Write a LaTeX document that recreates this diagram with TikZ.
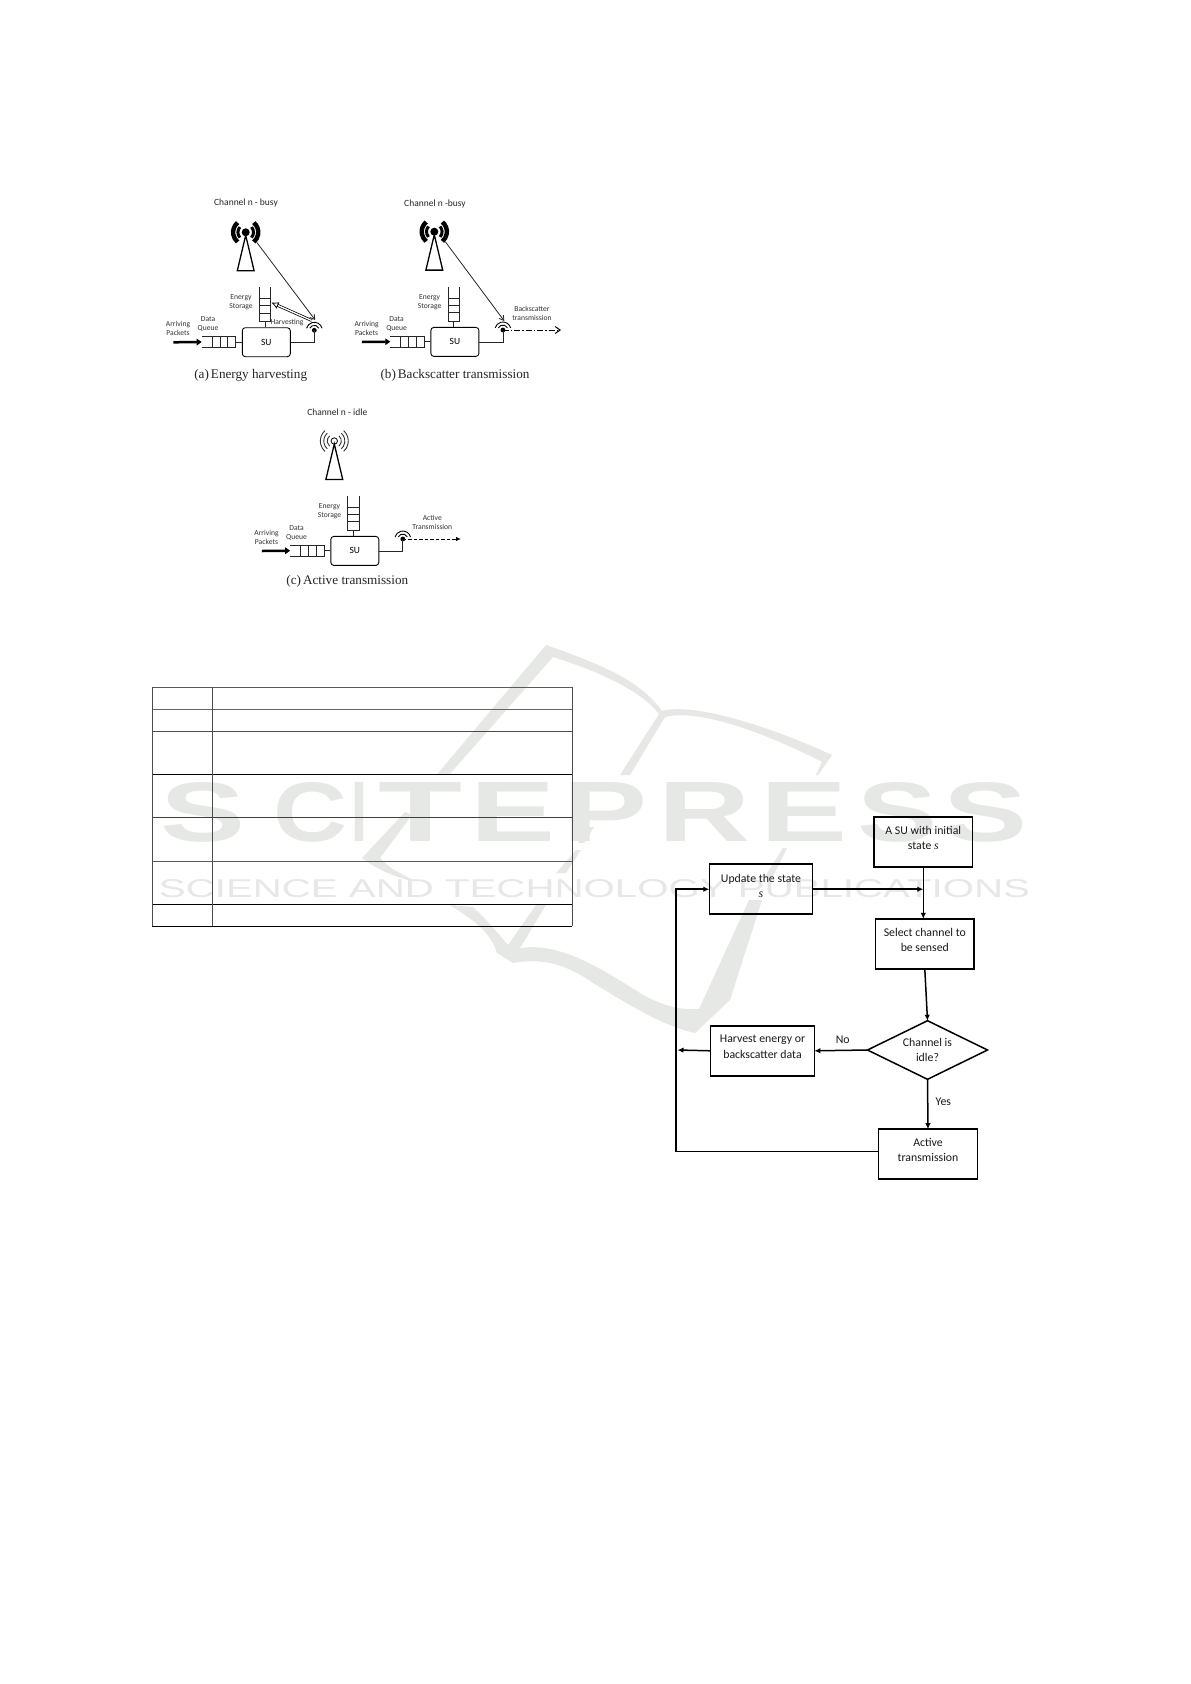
\documentclass[tikz,border=0pt]{standalone}
\usepackage{fontspec}
\usepackage{graphicx}
\usetikzlibrary{arrows.meta,shapes.geometric,calc}
\setmainfont{Carlito}
\newfontfamily\capfont{Liberation Serif}
\newfontfamily\wmfont{Liberation Sans}
\definecolor{wm}{HTML}{E6E8E6}
\newcommand{\wl}[2]{\resizebox{#1pt}{59pt}{#2}}
\tikzset{
  tiny label/.style={font=\fontsize{7.6}{9}\selectfont,align=center,text=black!80,inner sep=0pt},
  chan label/.style={font=\fontsize{9.5}{11}\selectfont,text=black!85,inner sep=0pt},
  cap label/.style={font=\capfont\fontsize{13.2}{15}\selectfont,text=black!85,inner sep=0pt},
  su box/.style={draw,rounded corners=3pt,line width=.9pt,minimum width=48pt,minimum height=29pt,inner sep=0pt,font=\fontsize{9.5}{11}\selectfont},
  plain box/.style={inner sep=0pt,outer sep=0pt},
  thin line/.style={line width=.7pt,draw=black!85},
  feed/.style={line width=.8pt,draw=black!85,-{Straight Barb[length=4.5pt,width=5.5pt]}},
  flow box/.style={draw,line width=1.5pt,minimum width=98.7pt,minimum height=50pt,inner sep=0pt,outer sep=0pt},
  flow text/.style={font=\fontsize{11.8}{15.4}\selectfont,align=center,text=black!90,inner sep=0pt},
  flow/.style={line width=1.5pt,-{Latex[length=6pt,width=5.5pt]}},
  tline/.style={line width=.9pt},
}
\newcommand{\towerbusy}[2]{%
  \fill (#1,#2) circle (4pt);
  \draw[line width=3pt] ($(#1,#2)+(42:7.8pt)$) arc[start angle=42,end angle=-42,radius=7.8pt];
  \draw[line width=3pt] ($(#1,#2)+(138:7.8pt)$) arc[start angle=138,end angle=222,radius=7.8pt];
  \draw[line width=4.4pt] ($(#1,#2)+(50:12.6pt)$) arc[start angle=50,end angle=-50,radius=12.6pt];
  \draw[line width=4.4pt] ($(#1,#2)+(130:12.6pt)$) arc[start angle=130,end angle=230,radius=12.6pt];
  \draw[line width=1.3pt,line join=miter] (#1,#2+3) -- (#1-8.4,#2+38.4) -- (#1+8.4,#2+38.4) -- cycle;
}
\newcommand{\toweridle}[2]{%
  \draw[line width=.8pt] (#1,#2) circle (3.2pt);
  \foreach \r in {7,10.5,14}{
    \draw[line width=.9pt,draw=black!80] ($(#1,#2)+(48:\r pt)$) arc[start angle=48,end angle=-48,radius=\r pt];
    \draw[line width=.9pt,draw=black!80] ($(#1,#2)+(132:\r pt)$) arc[start angle=132,end angle=228,radius=\r pt];
  }
  \draw[line width=1.3pt,line join=miter] (#1,#2+3) -- (#1-8.4,#2+38.4) -- (#1+8.4,#2+38.4) -- cycle;
}
% su unit: #1 prefix, #2 dx, #3 dy
\newcommand{\suunit}[3]{%
\begin{scope}[shift={(#2,#3)},name prefix=#1-]
  \node[su box] (su) at (266.3,342.2) {SU};
  \node[plain box,minimum width=34pt,minimum height=11.4pt] (q) at (218.7,342) {};
  \draw[thin line] (q.north west) -- (q.north east) -- (q.south east) -- (q.south west);
  \foreach \xx in {212,220,227.7}{\draw[thin line] (\xx,336.3) -- (\xx,347.7);}
  \node[plain box,minimum width=11.4pt,minimum height=34pt] (st) at (265,304.3) {};
  \draw[thin line] (st.north west) -- (st.south west) -- (st.south east) -- (st.north east);
  \foreach \yy in {298.3,305.4,313}{\draw[thin line] (259.3,\yy) -- (270.7,\yy);}
  \draw[thin line] (st.south) -- (st.south |- su.north);
  \draw[thin line] (su.west |- q.east) -- (q.east);
  \coordinate (in) at (173.3,342.3);
  \draw[line width=2.5pt,-{Triangle[length=5pt,width=6.5pt]}] (in) -- (q.west);
  \coordinate (dot) at (314.3,330.3);
  \fill (dot) circle (2.4pt);
  \draw[line width=.9pt] ($(dot)+(25:5pt)$) arc[start angle=25,end angle=155,radius=5pt];
  \draw[line width=.9pt] ($(dot)+(15:8pt)$) arc[start angle=15,end angle=165,radius=8pt];
  \draw[thin line] (su.east) -| (dot);
  \node[tiny label] (es) at (241,302.7) {Energy\\Storage};
  \node[tiny label] (dq) at (208,324) {Data\\Queue};
  \node[tiny label] (ap) at (178,328.8) {Arriving\\Packets};
\end{scope}}
\begin{document}
\begin{tikzpicture}[x=1pt,y=-1pt]
\fill[white] (0,0) rectangle (1191,1684);
\useasboundingbox (0,0) rectangle (1191,1684);
% watermark
\node[inner sep=0pt,text=wm,font=\wmfont\bfseries,anchor=west] (wm1) at (160,812.7) {\wl{85}{S}\hspace{28pt}\wl{74}{C}\hspace{4pt}\wl{16}{I}\hspace{11pt}\wl{84}{T}\hspace{8pt}\wl{85}{E}\hspace{8pt}\wl{84}{P}\hspace{11pt}\wl{92}{R}\hspace{10pt}\wl{87}{E}\hspace{10pt}\wl{80}{S}\hspace{6pt}\wl{84}{S}};
\node[inner sep=0pt,text=wm,font=\wmfont] (wm2) at (594.5,889) {\resizebox{871pt}{18pt}{SCIENCE AND TECHNOLOGY PUBLICATIONS}};
\fill[wm] (546,645) .. controls (600,664) and (640,680) .. (662,711)
  .. controls (690,703) and (760,722) .. (832,755) -- (818,775) -- (816,775) -- (822,762)
  .. controls (770,735) and (700,708) .. (665,717) -- (630,775) -- (620,775) -- (659,714)
  .. controls (640,690) and (600,672) .. (553,657) -- (449,775) -- (436.5,775) -- cycle;
\fill[wm] (405,812) -- (362,858) .. controls (375,868) and (390,875) .. (408,880)
  -- (413,880) -- (398,872) .. controls (390,868) and (385,863) .. (380,858) -- (412,815) -- cycle;
\fill[wm] (586,827) -- (594,827) -- (584,843) -- (578,843) -- cycle;
\fill[wm] (576,850) -- (581,850) -- (566,873) -- (556,873) -- cycle;
\fill[wm] (783,848) -- (787,848) -- (772,878) -- (764,878) -- cycle;
\fill[wm] (450,905) -- (473,907) .. controls (485,918) and (497,932) .. (508,945)
  -- (536,905) -- (546,905) -- (520,948)
  .. controls (560,942) and (600,968) .. (640,993)
  .. controls (665,1008) and (685,1010) .. (699,1009)
  -- (749,900) -- (762,900) -- (730,1000) -- (695,1033)
  .. controls (660,1025) and (630,1005) .. (593,983)
  .. controls (565,963) and (540,958) .. (513,963) -- (497,953)
  .. controls (490,930) and (470,918) .. (450,905) -- cycle;
% table
\foreach \yy/\cc in {687/black!65,709/black!60,731/black!70,774.3/black,817.3/black!75,861/black!65,904.3/black,926/black}{
  \draw[tline,draw=\cc] (152.3,\yy) -- (572.3,\yy);}
\draw[tline,draw=black!70] (152.3,687) -- (152.3,926);
\draw[tline,draw=black!70] (212.3,687) -- (212.3,926);
\draw[tline,draw=black!70] (572.3,687) -- (572.3,926);
% subfigure a
\towerbusy{245.7}{232.3}
\suunit{a}{0}{0}
\node[tiny label] (hv) at (287,322.3) {Harvesting};
\node[chan label] (ca) at (246,202.7) {Channel n - busy};
\coordinate (ta) at (256.7,242.3);
\coordinate (ra) at (315.2,320);
\draw[feed] (ta) -- (ra);
\coordinate (ha) at (311.7,320.5);
\coordinate (hb) at (271.5,302.6);
\draw[line width=.75pt,double=white,double distance=1.3pt,-{Latex[open,length=7pt,width=7pt]}] (ha) -- (hb);
\node[cap label] (capa) at (250.7,375) {(a)\hspace{2pt}Energy harvesting};
% subfigure b
\towerbusy{434.3}{231.7}
\suunit{b}{188.6}{-.3}
\node[chan label] (cb) at (435,204.3) {Channel n -busy};
\coordinate (tb) at (445.3,241.7);
\coordinate (rb) at (504.3,321);
\draw[feed] (tb) -- (rb);
\coordinate (eb) at (561,330);
\draw[line width=1pt,dash pattern=on 6pt off 2pt on 1.5pt off 2pt,-{Straight Barb[length=5pt,width=7pt]}] (b-dot) -- (eb);
\node[tiny label] (bt) at (532,313.3) {Backscatter\\transmission};
\node[cap label] (capb) at (455,375) {(b)\hspace{2pt}Backscatter transmission};
% subfigure c
\toweridle{334.3}{441}
\suunit{c}{88.5}{208.7}
\node[chan label] (cc) at (337.3,412.3) {Channel n - idle};
\coordinate (ec) at (461,539);
\draw[line width=1pt,dash pattern=on 3.5pt off 2pt,-{Latex[length=5pt,width=4.5pt]}] (c-dot) -- (ec);
\node[tiny label] (at) at (432.3,522.8) {Active\\Transmission};
\node[cap label] (capc) at (347.3,581) {(c)\hspace{2pt}Active transmission};
% flowchart
\node[flow box,label={[flow text,yshift=4pt]center:A SU with initial\\state {\capfont\itshape s}}] (init) at (923.3,842.2) {};
\node[flow box,minimum width=103.4pt,label={[flow text,yshift=3.5pt]center:Update the state\\{\capfont\itshape s}}] (upd) at (761,889.2) {};
\node[flow box,label={[flow text,yshift=4pt]center:Select channel to\\be sensed}] (sel) at (924.8,943.8) {};
\node[diamond,draw,line width=1.5pt,shape aspect=2.05,minimum width=120pt,minimum height=58.6pt,inner sep=0pt,outer sep=0pt,label={[flow text]center:Channel is\\idle?}] (dec) at (927.5,1050) {};
\node[flow box,minimum width=103.6pt,label={[flow text,yshift=4pt]center:Harvest energy or\\backscatter data}] (har) at (762.5,1050.8) {};
\node[flow box,label={[flow text,yshift=4pt]center:Active\\transmission}] (act) at (928,1154.2) {};
\draw[flow] (init.south) -- (init.south |- sel.north);
\coordinate (join) at (init.south |- upd.east);
\draw[flow] (upd.east) -- (join);
\draw[flow] (sel.south) -- (dec.north);
\draw[flow] (dec.west) -- (har.east);
\node[flow text] (no) at (842.7,1040) {No};
\coordinate (back) at (677.5,1050);
\draw[flow] (har.west) -- (back);
\draw[flow] (dec.south) -- (act.north);
\node[flow text] (yes) at (943.3,1102) {Yes};
\coordinate (c1) at (676,1151.7);
\coordinate (c2) at (676,889.2);
\draw[flow] (act.west |- c1) -- (c1) -- (c2) -- (upd.west);
\end{tikzpicture}
\end{document}
